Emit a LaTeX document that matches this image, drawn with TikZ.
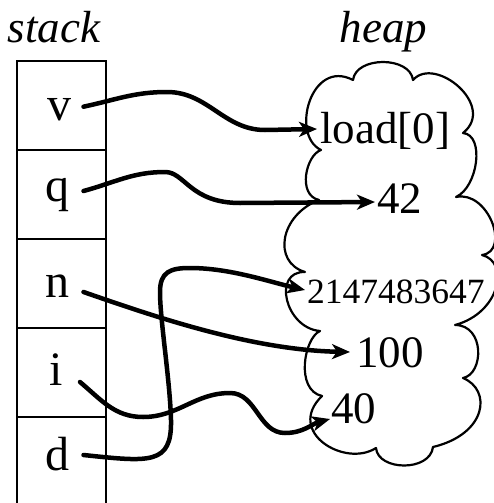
\documentclass[tikz,border=0pt]{standalone}
\usepackage{fontspec}
\setmainfont{Liberation Serif}
\usetikzlibrary{arrows.meta,calc}
\begin{document}
\begin{tikzpicture}[x=1pt,y=-1pt,
  txt/.style={inner sep=0pt, font=\fontsize{45}{54}\selectfont},
  stacktxt/.style={inner sep=0pt, font=\fontsize{48}{56}\selectfont},
  smalltxt/.style={inner sep=0pt, font=\fontsize{35.5}{42}\selectfont},
  boxline/.style={line width=2.2pt},
  cloudline/.style={line width=2.2pt, line join=round},
  ptr/.style={line width=4.5pt, line cap=round, -{Stealth[length=18pt,width=15pt,inset=5pt]}},
]
\useasboundingbox (0,0) rectangle (494,503);

% titles
\node[txt,anchor=base] (stack) at (54,43) {\itshape stack};
\node[txt,anchor=base] (heap) at (383.5,43) {\itshape heap};

% stack frame
\draw[boxline] (17,510) -- (17,61) -- (106,61) -- (106,510);
\foreach \yy in {150,239,328,417} \draw[boxline] (17,\yy) -- (106,\yy);

\node[stacktxt,anchor=base] (v) at (59.5,120.7) {v};
\node[stacktxt,anchor=base] (q) at (57.5,201) {q};
\node[stacktxt,anchor=base] (n) at (57.5,297) {n};
\node[stacktxt,anchor=base] (i) at (56,385) {i};
\node[stacktxt,anchor=base] (d) at (57.5,470) {d};

% heap cloud
\draw[cloudline] (353,80)
 .. controls (356,56) and (410,56) .. (413,80)
 .. controls (435,55) and (497,106) .. (463,133)
 .. controls (485,135) and (478,187) .. (456,197)
 .. controls (488,190) and (511,251) .. (482,255)
 .. controls (510,262) and (500,313) .. (455,325)
 .. controls (485,325) and (484,374) .. (463,378)
 .. controls (492,390) and (487,434) .. (433,447)
 .. controls (430,472) and (378,471) .. (376,448)
 .. controls (345,468) and (285,432) .. (322,396)
 .. controls (295,390) and (304,338) .. (320,331)
 .. controls (285,328) and (272,271) .. (305,272)
 .. controls (272,262) and (280,215) .. (319,200)
 .. controls (297,195) and (306,155) .. (321,150)
 .. controls (290,135) and (311,58) .. (353,80) -- cycle;

\node[txt,anchor=base west] (load) at (320,143) {load[0]};
\node[txt,anchor=base west] (n42) at (377,213) {42};
\node[smalltxt,anchor=base west] (big) at (307,303) {2147483647};
\node[txt,anchor=base west] (h100) at (356,367) {100};
\node[txt,anchor=base west] (h40) at (331,423) {40};

% pointers
\draw[ptr] ($(v.base)+(24,-14)$) to[out=12,in=180] (167,92)
  to[out=0,in=180] (265,130) -- ($(load.base west)+(-3,-14)$);
\draw[ptr] ($(q.base)+(26,-10)$) to[out=15,in=180] (165,172)
  .. controls (185,172) and (190,203) .. (240,203) -- ($(n42.base west)+(-2,-11)$);
\draw[ptr] ($(n.base)+(26,-5)$) .. controls (150,315) and (250,350) .. ($(h100.base west)+(-6,-15)$);
\draw[ptr] ($(i.base)+(24,-3)$) to[out=-40,in=180] (143,417)
  to[out=0,in=180] (230,393) to[out=0,in=180] (285,433)
  to[out=0,in=195] ($(h40.base west)+(-1,-4)$);
\draw[ptr] ($(d.base)+(26,-15)$) .. controls (150,462) and (172,465) .. (171,420)
  .. controls (170,380) and (160,320) .. (160,292)
  .. controls (160,272) and (170,268) .. (190,268)
  .. controls (230,268) and (270,282) .. ($(big.base west)+(-2,-13)$);
\end{tikzpicture}
\end{document}
